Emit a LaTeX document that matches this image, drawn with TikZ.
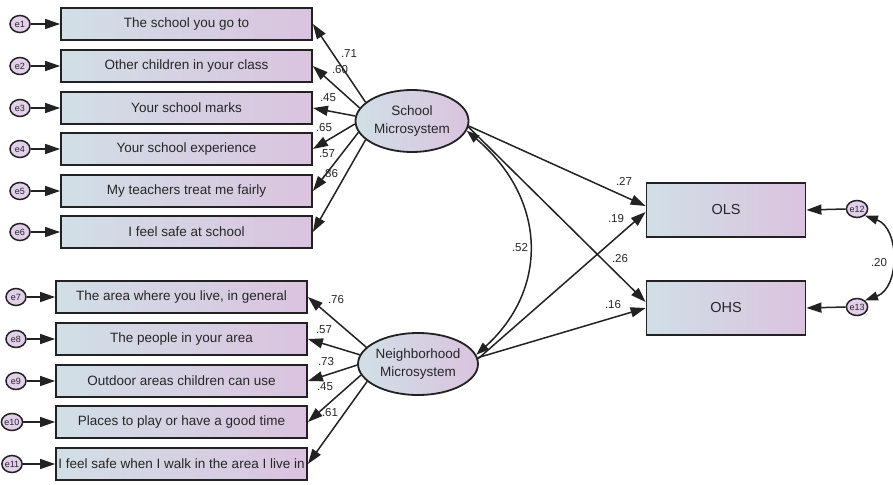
\documentclass[tikz,border=0pt]{standalone}
\usepackage{fontspec}
\setmainfont{Liberation Sans}
\usetikzlibrary{arrows.meta,shapes.geometric}
\definecolor{lb}{HTML}{D1DFE6}
\definecolor{lp}{HTML}{DAC3DF}
\definecolor{ep}{HTML}{E2D0EA}
\definecolor{ln}{HTML}{222222}
\definecolor{txt}{HTML}{262626}
\begin{document}
\begin{tikzpicture}[x=1pt,y=-1pt,
  box/.style={draw=ln,line width=1.8pt,left color=lb,right color=lp,minimum width=251pt,minimum height=32pt,inner sep=0pt,font=\fontsize{13.5}{16}\selectfont,text=txt},
  obox/.style={draw=ln,line width=1.8pt,left color=lb,right color=lp,minimum width=159pt,minimum height=54pt,inner sep=0pt,font=\fontsize{14.5}{16}\selectfont,text=txt},
  lat/.style={ellipse,draw=ln,line width=1.8pt,left color=lb,right color=lp,minimum width=113pt,minimum height=62pt,inner sep=0pt,align=center,font=\fontsize{13.5}{18}\selectfont,text=txt},
  err/.style={ellipse,draw=ln,line width=1.5pt,fill=ep,minimum width=20pt,minimum height=17pt,inner sep=0pt,font=\fontsize{9}{9}\selectfont,text=txt},
  arr/.style={line width=1.5pt,draw=ln,-{Triangle[length=15pt,width=10pt]}},
  biarr/.style={line width=1.5pt,draw=ln,{Triangle[length=13pt,width=9pt]}-{Triangle[length=13pt,width=9pt]}},
  lbl/.style={font=\fontsize{11.5}{12}\selectfont,inner sep=0pt,text=txt}]
\useasboundingbox (0,0) rectangle (893,484);

% school indicators
\node[box] (b1) at (186.5,24) {The school you go to};
\node[box] (b2) at (186.5,66) {Other children in your class};
\node[box] (b3) at (186.5,108) {Your school marks};
\node[box] (b4) at (186.5,149) {Your school experience};
\node[box] (b5) at (186.5,191) {My teachers treat me fairly};
\node[box] (b6) at (186.5,232) {I feel safe at school};
\node[err] (e1) at (20,24) {e1};
\node[err] (e2) at (20,66) {e2};
\node[err] (e3) at (20,108) {e3};
\node[err] (e4) at (20,149) {e4};
\node[err] (e5) at (20,191) {e5};
\node[err] (e6) at (20,232) {e6};
\foreach \i in {1,...,6}{\draw[arr] (e\i.east) -- (b\i.west);}

% neighborhood indicators
\node[box] (b7) at (181.5,297) {The area where you live, in general};
\node[box] (b8) at (181.5,339) {The people in your area};
\node[box] (b9) at (181.5,381) {Outdoor areas children can use};
\node[box] (b10) at (181.5,422) {Places to play or have a good time};
\node[box] (b11) at (181.5,464) {I feel safe when I walk in the area I live in};
\node[err] (e7) at (16,297) {e7};
\node[err] (e8) at (16,339) {e8};
\node[err] (e9) at (16,381) {e9};
\node[err] (e10) at (12,422) {e10};
\node[err] (e11) at (12,464) {e11};
\foreach \i in {7,...,11}{\draw[arr] (e\i.east) -- (b\i.west);}

% latent variables
\node[lat] (sm) at (412,121) {School\\Microsystem};
\node[lat] (nm) at (418,364) {Neighborhood\\Microsystem};

\draw[arr] (sm.158) -- (b1.east);
\draw[arr] (sm.166) -- (b2.east);
\draw[arr] (sm.175) -- (b3.east);
\draw[arr] (sm.183) -- (b4.east);
\draw[arr] (sm.192) -- (b5.east);
\draw[arr] (sm.202) -- (b6.east);
\node[lbl] (l1) at (349,54) {.71};
\node[lbl] (l2) at (340,70) {.60};
\node[lbl] (l3) at (328,98) {.45};
\node[lbl] (l4) at (324,128) {.65};
\node[lbl] (l5) at (327,154) {.57};
\node[lbl] (l6) at (330,174) {.86};

\draw[arr] (nm.162) -- (b7.east);
\draw[arr] (nm.171) -- (b8.east);
\draw[arr] (nm.181) -- (b9.east);
\draw[arr] (nm.191) -- (b10.east);
\draw[arr] (nm.199) -- (b11.east);
\node[lbl] (l7) at (336,300) {.76};
\node[lbl] (l8) at (324,330) {.57};
\node[lbl] (l9) at (326,362) {.73};
\node[lbl] (l10) at (325,387) {.45};
\node[lbl] (l11) at (330,413) {.61};

% outcomes
\node[obox] (ols) at (726,210) {OLS};
\node[obox] (ohs) at (726,308) {OHS};
\node[err,minimum width=21pt] (e12) at (857,209) {e12};
\node[err,minimum width=21pt] (e13) at (857,307) {e13};
\draw[arr] (e12.west) -- (ols.east);
\draw[arr] (e13.west) -- (ohs.east);
\draw[biarr] (e12.-40) .. controls (900,228) and (900,288) .. (e13.40);
\node[lbl] (l20) at (879,263) {.20};

% structural paths
\draw[arr] (sm.-5) -- ([yshift=4pt]ols.west);
\draw[arr] (sm.-6) -- ([yshift=6pt]ohs.west);
\draw[arr] (nm.5) -- ([yshift=-2pt]ols.west);
\draw[arr] (nm.6) -- (ohs.west);
\node[lbl] (l27) at (624,181) {.27};
\node[lbl] (l19) at (616,219) {.19};
\node[lbl] (l26) at (620,259) {.26};
\node[lbl] (l16) at (613,305) {.16};

% covariance
\draw[biarr] (sm.-10) .. controls (548,200) and (548,290) .. (nm.9);
\node[lbl] (l52) at (520,248) {.52};
\end{tikzpicture}
\end{document}
